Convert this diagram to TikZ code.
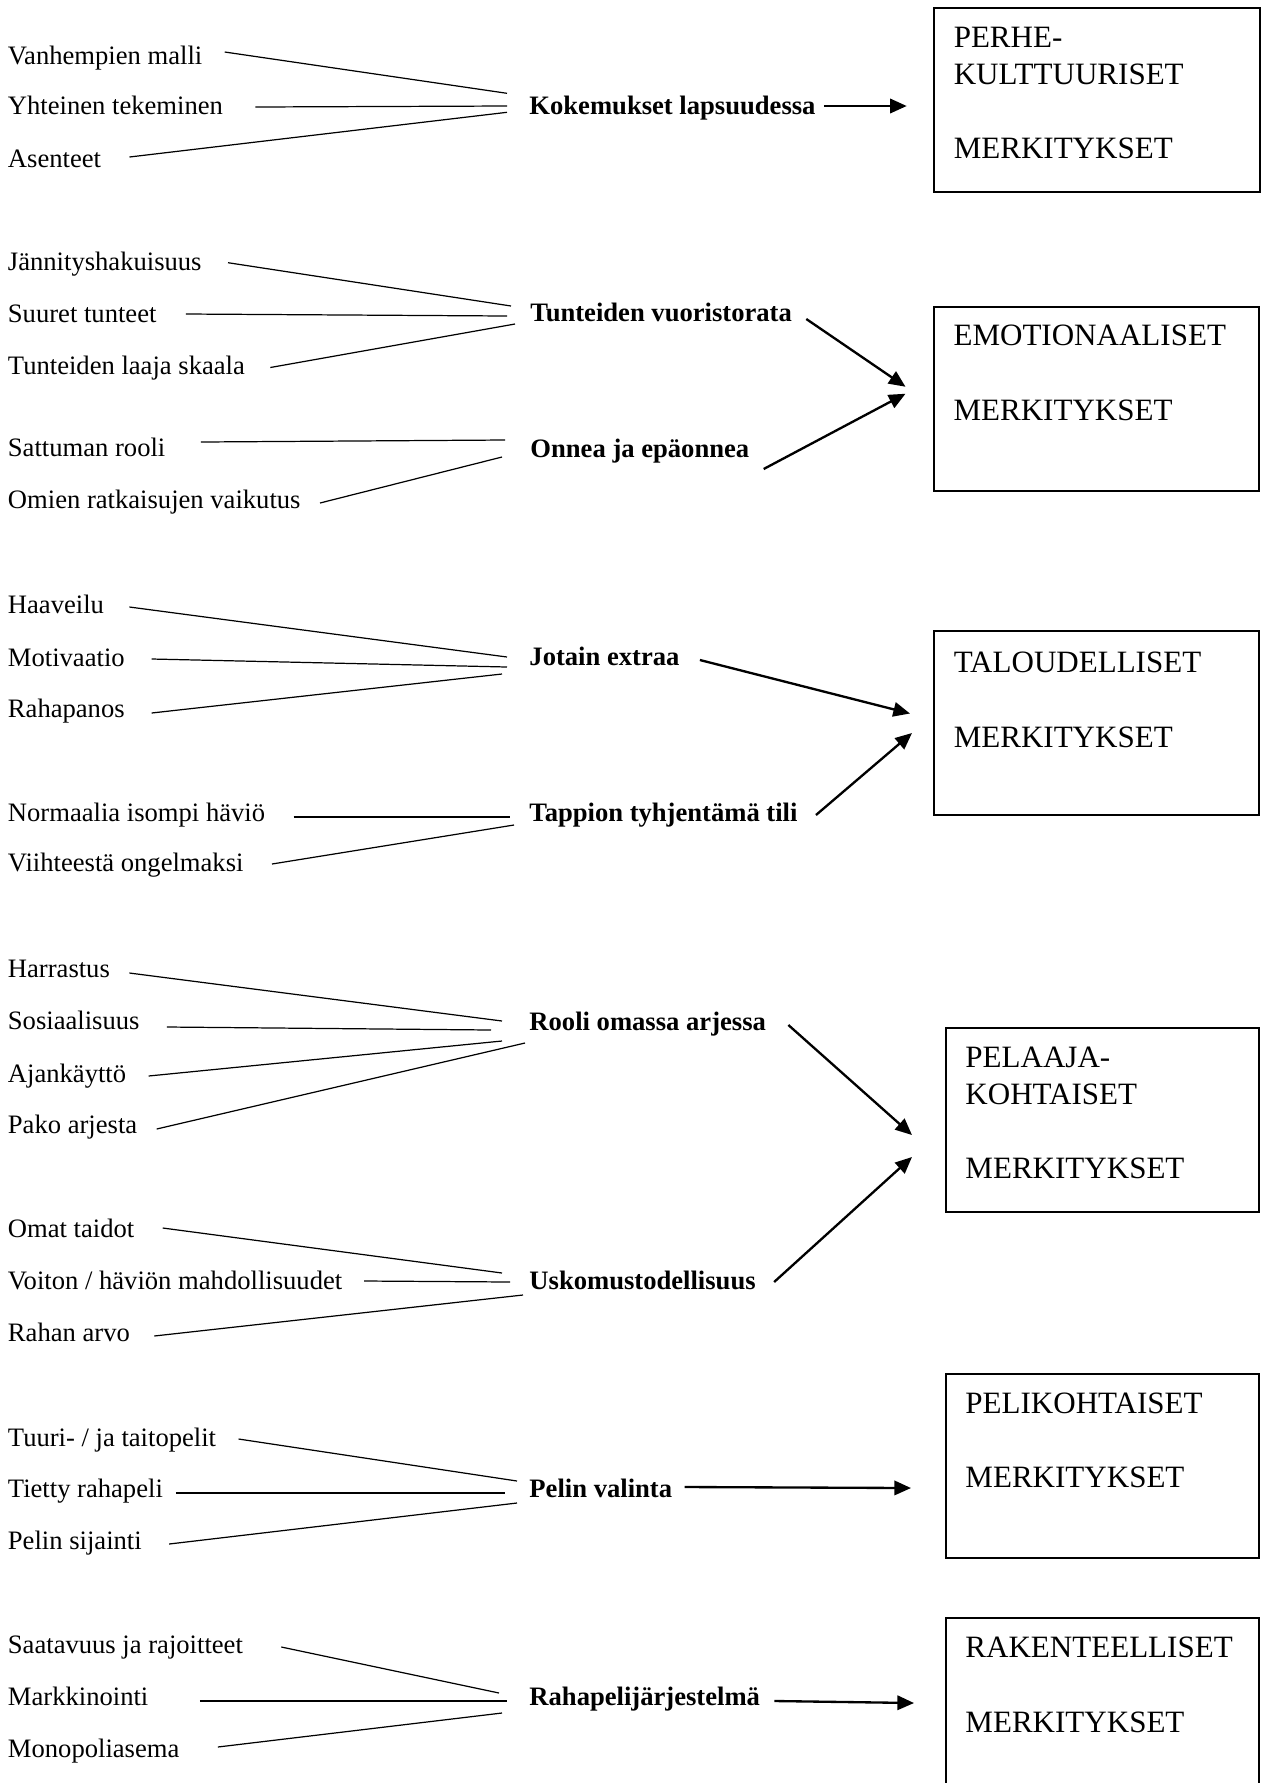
\documentclass[tikz,border=0pt]{standalone}
\usepackage{fontspec}
\setmainfont{Liberation Serif}
\usetikzlibrary{calc,arrows.meta}
\begin{document}
\begin{tikzpicture}[x=0.451pt,y=-0.451pt,
  lt/.style={inner sep=0pt,anchor=west,font=\fontsize{12}{14}\selectfont,text height=7.9pt,text depth=0pt},
  lab/.style={lt,font=\fontsize{12}{14}\selectfont\bfseries},
  btxt/.style={inner sep=0pt,anchor=west,font=\fontsize{14}{16}\selectfont,text height=9.2pt,text depth=0pt},
  mbox/.style={draw,line width=0.9pt,inner sep=0pt,anchor=north west,minimum height=83pt},
  wideb/.style={mbox,minimum width=147pt},
  narb/.style={mbox,minimum width=141.2pt},
  ln/.style={line width=0.55pt},
  arr/.style={line width=1.05pt,-{Triangle[length=7.5pt,width=6.5pt]}}
]
\useasboundingbox (0,0) rectangle (1266,1783);

% ---------- Group 1
\node[lt] (g1a) at (7.5,56) {Vanhempien malli};
\node[lt] (g1b) at (7.5,106) {Yhteinen tekeminen};
\node[lt] (g1c) at (7.5,158.5) {Asenteet};
\node[lab] (k1) at (529,106) {Kokemukset lapsuudessa};
\draw[ln] ($(g1a.east)+(22,-4)$) -- ($(k1.west)+(-22,-12.7)$);
\draw[ln] ($(g1b.east)+(32,1)$) -- ($(k1.west)+(-22,0)$);
\draw[ln] ($(g1c.east)+(28,-1.5)$) -- ($(k1.west)+(-22,6.3)$);
\node[wideb] (b1) at (932.7,6.7) {};
\node[btxt] (b1a) at ($(b1.north west)+(20.6,30.8)$) {PERHE-};
\node[btxt] (b1b) at ($(b1a.west)+(0,36.7)$) {KULTTUURISET};
\node[btxt] (b1c) at ($(b1b.west)+(0,74.3)$) {MERKITYKSET};
\draw[arr] ($(k1.east)+(8,0)$) -- ($(b1.west |- k1.east)+(-26,0)$);

% ---------- Group 2
\node[lt] (g2a) at (7.5,261.7) {Jännityshakuisuus};
\node[lt] (g2b) at (7.5,314) {Suuret tunteet};
\node[lt] (g2c) at (7.5,365.5) {Tunteiden laaja skaala};
\node[lab] (k2) at (530,313) {Tunteiden vuoristorata};
\draw[ln] ($(g2a.east)+(26,1)$) -- ($(k2.west)+(-19,-7)$);
\draw[ln] ($(g2b.east)+(29,0)$) -- ($(k2.west)+(-23,3)$);
\draw[ln] ($(g2c.east)+(25,2)$) -- ($(k2.west)+(-15,11)$);
\node[lt] (g2d) at (7.5,448) {Sattuman rooli};
\node[lt] (g2e) at (7.5,500) {Omien ratkaisujen vaikutus};
\node[lab] (k3) at (530,449) {Onnea ja epäonnea};
\draw[ln] ($(g2d.east)+(35,-6)$) -- ($(k3.west)+(-25,-9)$);
\draw[ln] ($(g2e.east)+(19,3)$) -- ($(k3.west)+(-28,8)$);
\node[wideb] (b2) at (932.5,305.7) {};
\node[btxt] (b2a) at ($(b2.north west)+(20.6,30)$) {EMOTIONAALISET};
\node[btxt] (b2b) at ($(b2a.west)+(0,75)$) {MERKITYKSET};
\draw[arr] ($(k2.east)+(14,6)$) -- ($(b2.west)+(-27,-12)$);
\draw[arr] ($(k3.east)+(14,20)$) -- ($(b2.west)+(-27,-5)$);

% ---------- Group 3
\node[lt] (g3a) at (7.5,605) {Haaveilu};
\node[lt] (g3b) at (7.5,658) {Motivaatio};
\node[lt] (g3c) at (7.5,709) {Rahapanos};
\node[lab] (k4) at (529,657) {Jotain extraa};
\draw[ln] ($(g3a.east)+(25,2)$) -- ($(k4.west)+(-22,0)$);
\draw[ln] ($(g3b.east)+(26.5,1)$) -- ($(k4.west)+(-22,10)$);
\draw[ln] ($(g3c.east)+(26.5,4)$) -- ($(k4.west)+(-27,17)$);
\node[lt] (g3d) at (7.5,813) {Normaalia isompi häviö};
\node[lt] (g3e) at (7.5,863) {Viihteestä ongelmaksi};
\node[lab] (k5) at (529,813) {Tappion tyhjentämä tili};
\draw[ln] ($(g3d.east)+(28,4)$) -- ($(k5.west)+(-19,4)$);
\draw[ln] ($(g3e.east)+(28,1)$) -- ($(k5.west)+(-15,12)$);
\node[wideb] (b3) at (932.5,630) {};
\node[btxt] (b3a) at ($(b3.north west)+(20.8,32)$) {TALOUDELLISET};
\node[btxt] (b3b) at ($(b3a.west)+(0,75)$) {MERKITYKSET};
\draw[arr] ($(k4.east)+(20,3)$) -- ($(b3.west)+(-22.5,-9.5)$);
\draw[arr] ($(k5.east)+(18,2)$) -- ($(b3.west)+(-20.5,10)$);

% ---------- Group 4
\node[lt] (g4a) at (7.5,969) {Harrastus};
\node[lt] (g4b) at (7.5,1021) {Sosiaalisuus};
\node[lt] (g4c) at (7.5,1074) {Ajankäyttö};
\node[lt] (g4d) at (7.5,1125) {Pako arjesta};
\node[lab] (k6) at (529,1022) {Rooli omassa arjessa};
\draw[ln] ($(g4a.east)+(19,4)$) -- ($(k6.west)+(-27,-1)$);
\draw[ln] ($(g4b.east)+(27,6)$) -- ($(k6.west)+(-38,8)$);
\draw[ln] ($(g4c.east)+(22,2)$) -- ($(k6.west)+(-27,19)$);
\draw[ln] ($(g4d.east)+(19,4)$) -- ($(k6.west)+(-4,21)$);
\node[lt] (g4e) at (7.5,1229) {Omat taidot};
\node[lt] (g4f) at (7.5,1281) {Voiton / häviön mahdollisuudet};
\node[lt] (g4g) at (7.5,1333) {Rahan arvo};
\node[lab] (k7) at (529,1281) {Uskomustodellisuus};
\draw[ln] ($(g4e.east)+(28,-1)$) -- ($(k7.west)+(-27,-8)$);
\draw[ln] ($(g4f.east)+(21.5,0)$) -- ($(k7.west)+(-19,1)$);
\draw[ln] ($(g4g.east)+(24,3)$) -- ($(k7.west)+(-6,14)$);
\node[narb] (b4) at (944.5,1027) {};
\node[btxt] (b4a) at ($(b4.north west)+(20.5,30.5)$) {PELAAJA-};
\node[btxt] (b4b) at ($(b4a.west)+(0,36.7)$) {KOHTAISET};
\node[btxt] (b4c) at ($(b4b.west)+(0,74.3)$) {MERKITYKSET};
\draw[arr] ($(k6.east)+(22,3)$) -- ($(b4.west)+(-32.5,15)$);
\draw[arr] ($(k7.east)+(18,1)$) -- ($(b4.west)+(-32.5,37)$);

% ---------- Group 5
\node[lt] (g5a) at (7.5,1438) {Tuuri- / ja taitopelit};
\node[lt] (g5b) at (7.5,1489) {Tietty rahapeli};
\node[lt] (g5c) at (7.5,1541) {Pelin sijainti};
\node[lab] (k8) at (529,1489) {Pelin valinta};
\draw[ln] ($(g5a.east)+(22,1)$) -- ($(k8.west)+(-12,-8)$);
\draw[ln] ($(g5b.east)+(12.5,4)$) -- ($(k8.west)+(-24,4)$);
\draw[ln] ($(g5c.east)+(27,3)$) -- ($(k8.west)+(-12,14)$);
\node[narb] (b5) at (945,1373) {};
\node[btxt] (b5a) at ($(b5.north west)+(20,30)$) {PELIKOHTAISET};
\node[btxt] (b5b) at ($(b5a.west)+(0,74)$) {MERKITYKSET};
\draw[arr] ($(k8.east)+(12,-2)$) -- ($(b5.west)+(-34,22)$);

% ---------- Group 6
\node[lt] (g6a) at (7.5,1645) {Saatavuus ja rajoitteet};
\node[lt] (g6b) at (7.5,1697) {Markkinointi};
\node[lt] (g6c) at (7.5,1749) {Monopoliasema};
\node[lab] (k9) at (529,1697) {Rahapelijärjestelmä};
\draw[ln] ($(g6a.east)+(38,2)$) -- ($(k9.west)+(-30,-4)$);
\draw[ln] ($(g6b.east)+(51,4)$) -- ($(k9.west)+(-22,4)$);
\draw[ln] ($(g6c.east)+(38,-2)$) -- ($(k9.west)+(-27,16)$);
\node[narb] (b6) at (945,1617) {};
\node[btxt] (b6a) at ($(b6.north west)+(20,30)$) {RAKENTEELLISET};
\node[btxt] (b6b) at ($(b6a.west)+(0,75)$) {MERKITYKSET};
\draw[arr] ($(k9.east)+(14,4)$) -- ($(b6.west)+(-31,-7)$);
\end{tikzpicture}
\end{document}
